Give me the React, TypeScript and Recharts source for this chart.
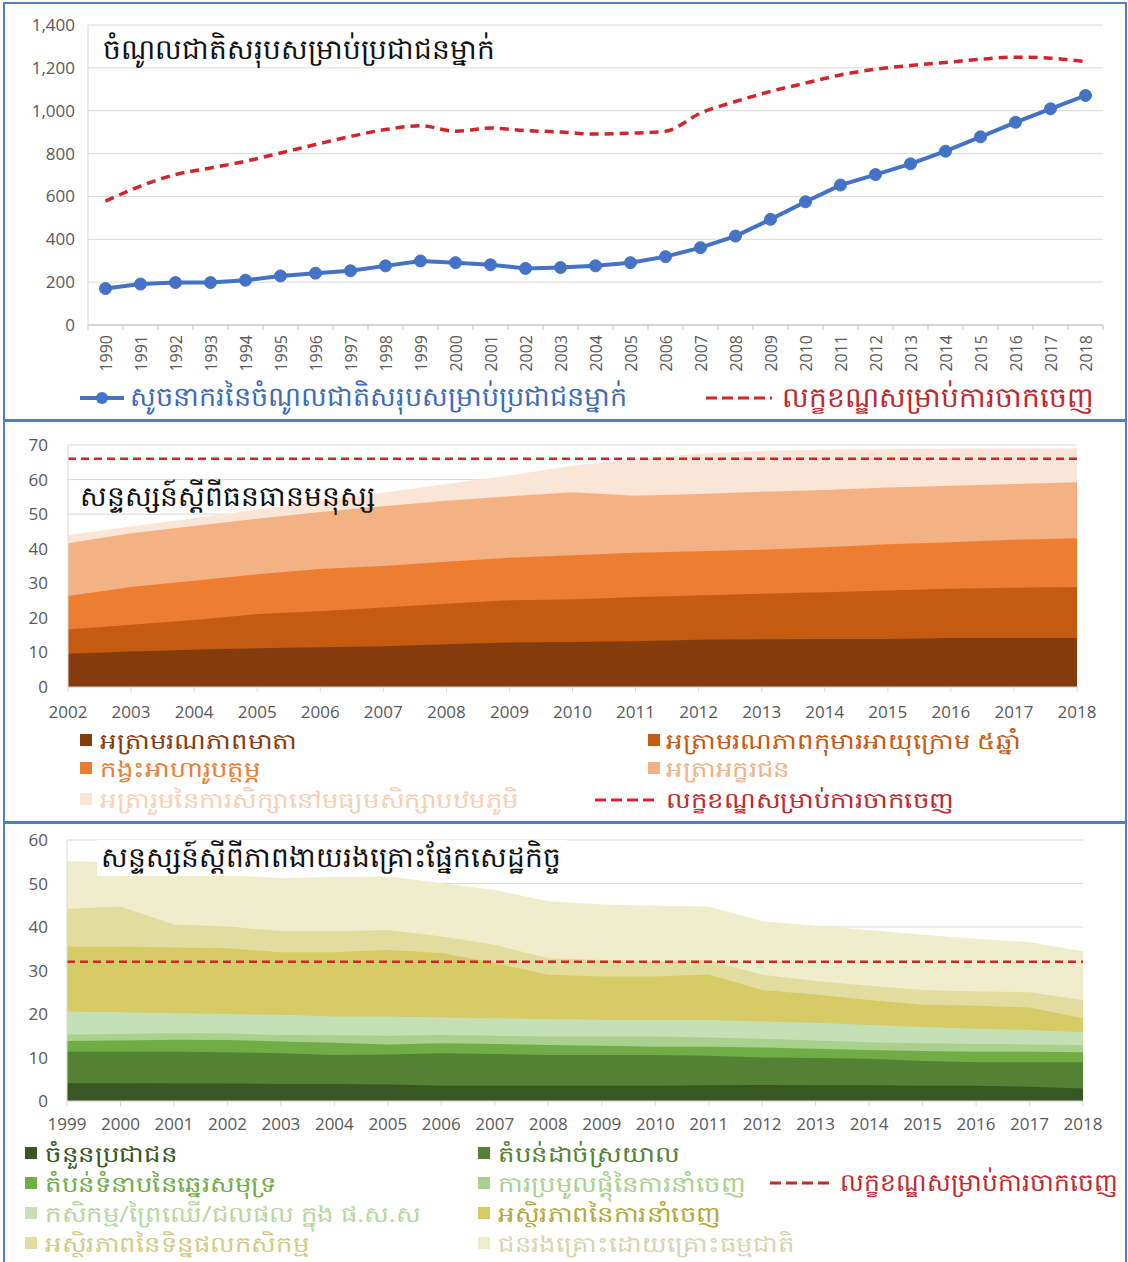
import React from 'react';
import { LineChart, Line, AreaChart, Area, XAxis, YAxis, CartesianGrid, ReferenceLine } from 'recharts';

// ---- panel 1: GNI per capita ----
const gniYears = ['1990', '1991', '1992', '1993', '1994', '1995', '1996', '1997', '1998', '1999', '2000', '2001', '2002', '2003', '2004', '2005', '2006', '2007', '2008', '2009', '2010', '2011', '2012', '2013', '2014', '2015', '2016', '2017', '2018'];
const gniPerCapita = [170, 191, 198, 198, 209, 229, 242, 253, 276, 299, 291, 281, 264, 268, 276, 291, 319, 361, 415, 493, 575, 653, 702, 752, 811, 878, 946, 1009, 1071];
const gniThreshold = [578, 648, 702, 733, 764, 803, 842, 880, 912, 930, 904, 919, 907, 901, 891, 895, 904, 989, 1043, 1090, 1129, 1167, 1194, 1211, 1225, 1240, 1250, 1245, 1229];
const gniTicks = [0, 200, 400, 600, 800, 1000, 1200, 1400];

// ---- panel 2: human assets index (top edge of each stacked band) ----
const haiYears = ['2002', '2003', '2004', '2005', '2006', '2007', '2008', '2009', '2010', '2011', '2012', '2013', '2014', '2015', '2016', '2017', '2018'];
const haiMaternal = [9.6, 10.3, 10.8, 11.2, 11.5, 11.8, 12.4, 12.9, 13.0, 13.2, 13.7, 13.8, 13.9, 13.9, 14.2, 14.2, 14.2];
const haiUnder5 = [16.6, 18.0, 19.4, 21.1, 21.9, 23.0, 24.1, 25.1, 25.3, 26.0, 26.5, 27.0, 27.4, 27.9, 28.4, 28.7, 28.9];
const haiNutrition = [26.3, 28.9, 30.7, 32.6, 34.1, 35.0, 36.2, 37.4, 38.1, 38.8, 39.3, 39.7, 40.4, 41.3, 41.9, 42.6, 43.0];
const haiLiteracy = [41.6, 44.5, 46.6, 48.7, 50.6, 52.3, 53.9, 55.2, 56.3, 55.3, 55.8, 56.5, 57.0, 57.7, 58.2, 58.7, 59.2];
const haiEnrolment = [43.9, 46.4, 48.8, 51.3, 53.8, 56.2, 58.7, 61.2, 64.0, 66.0, 67.5, 68.3, 68.6, 68.8, 69.0, 69.0, 69.0];
const haiThreshold = 66;
const haiTicks = [0, 10, 20, 30, 40, 50, 60, 70];

// ---- panel 3: economic vulnerability index (top edge of each stacked band) ----
const eviYears = ['1999', '2000', '2001', '2002', '2003', '2004', '2005', '2006', '2007', '2008', '2009', '2010', '2011', '2012', '2013', '2014', '2015', '2016', '2017', '2018'];
const eviPopulation = [4.1, 4.1, 4.0, 4.0, 3.9, 3.9, 3.8, 3.5, 3.5, 3.5, 3.5, 3.5, 3.6, 3.7, 3.6, 3.6, 3.5, 3.5, 3.3, 2.9];
const eviRemoteness = [11.3, 11.3, 11.3, 11.2, 11.0, 10.6, 10.7, 11.0, 10.8, 10.6, 10.6, 10.6, 10.4, 10.0, 9.9, 9.7, 9.2, 8.9, 8.9, 8.9];
const eviCoastal = [13.8, 13.9, 14.1, 14.0, 13.7, 13.4, 13.0, 13.3, 13.1, 12.9, 12.7, 12.5, 12.5, 12.3, 12.0, 11.7, 11.5, 11.3, 11.3, 11.2];
const eviExportConc = [15.3, 15.4, 15.6, 15.5, 15.2, 15.1, 15.0, 15.2, 15.0, 14.8, 14.8, 14.8, 14.6, 14.3, 13.9, 13.5, 13.3, 13.1, 13.0, 12.9];
const eviAgriShare = [20.6, 20.4, 20.2, 20.0, 19.8, 19.4, 19.4, 19.2, 19.0, 18.8, 18.7, 18.6, 18.6, 18.3, 18.0, 17.5, 17.0, 16.6, 16.3, 15.8];
const eviExportInstab = [35.5, 35.5, 35.3, 35.1, 34.2, 34.2, 34.7, 34.0, 31.7, 29.0, 28.6, 28.6, 29.1, 25.5, 24.5, 23.2, 22.1, 21.9, 21.5, 19.0];
const eviAgriInstab = [44.2, 44.7, 40.6, 40.1, 39.1, 39.0, 39.3, 37.8, 35.9, 32.8, 32.4, 32.1, 32.4, 29.0, 27.6, 26.5, 25.5, 25.2, 25.0, 23.2];
const eviDisaster = [55.1, 54.9, 52.3, 52.0, 51.2, 51.5, 51.6, 50.1, 48.5, 45.9, 45.2, 44.9, 44.7, 41.3, 40.3, 39.3, 38.2, 37.3, 36.5, 34.4];
const eviThreshold = 32;
const eviTicks = [0, 10, 20, 30, 40, 50, 60];

// ---- texts ----
const gniTitle = 'ចំណូលជាតិសរុបសម្រាប់ប្រជាជនម្នាក់';
const gniLegend = 'សូចនាករនៃចំណូលជាតិសរុបសម្រាប់ប្រជាជនម្នាក់';
const thresholdLabel = 'លក្ខខណ្ឌសម្រាប់ការចាកចេញ';
const haiTitle = 'សន្ទស្សន៍ស្តីពីធនធានមនុស្ស';
const haiLabels = ['អត្រាមរណភាពមាតា', 'អត្រាមរណភាពកុមារអាយុក្រោម ៥ឆ្នាំ', 'កង្វះអាហារូបត្ថម្ភ', 'អត្រាអក្ខរជន', 'អត្រារួមនៃការសិក្សានៅមធ្យមសិក្សាបឋមភូមិ'];
const eviTitle = 'សន្ទស្សន៍ស្តីពីភាពងាយរងគ្រោះផ្នែកសេដ្ឋកិច្ច';
const eviLabels = ['ចំនួនប្រជាជន', 'តំបន់ដាច់ស្រយាល', 'តំបន់ទំនាបនៃឆ្នេរសមុទ្រ', 'ការប្រមូលផ្តុំនៃការនាំចេញ', 'កសិកម្ម/ព្រៃឈើ/ជលផល ក្នុង ផ.ស.ស', 'អស្ថិរភាពនៃការនាំចេញ', 'អស្ថិរភាពនៃទិន្នផលកសិកម្ម', 'ជនរងគ្រោះដោយគ្រោះធម្មជាតិ'];

const haiColors = ['#843c0c', '#c55a11', '#ed7d31', '#f4b183', '#fbe5d6'];
const haiText = ['#843c0c', '#c55a11', '#ed7d31', '#f4b183', '#f6cfb4'];
const eviColors = ['#385723', '#548235', '#70ad47', '#a9d18e', '#c5e0b4', '#d6cb66', '#e3dc9f', '#efedcb'];
const eviText = ['#385723', '#548235', '#70ad47', '#a9d18e', '#b5d7a0', '#b2a83a', '#d2ca86', '#d7d4b2'];

const RED = '#d0252b';
const FONT = '"Open Sans", "Noto Sans", "DejaVu Sans", sans-serif';

const gniData = gniYears.map((year, i) => ({ year, gni: gniPerCapita[i], threshold: gniThreshold[i] }));
const haiData = haiYears.map((year, i) => ({
  year,
  maternal: haiMaternal[i],
  under5: haiUnder5[i],
  nutrition: haiNutrition[i],
  literacy: haiLiteracy[i],
  enrolment: haiEnrolment[i],
}));
const eviData = eviYears.map((year, i) => ({
  year,
  population: eviPopulation[i],
  remoteness: eviRemoteness[i],
  coastal: eviCoastal[i],
  exportConc: eviExportConc[i],
  agriShare: eviAgriShare[i],
  exportInstab: eviExportInstab[i],
  agriInstab: eviAgriInstab[i],
  disaster: eviDisaster[i],
}));

// rotated year labels for the GNI chart, with Excel-like tick marks between categories
const RotatedTick = (props: any) => {
  const { x, y, payload, index } = props;
  const half = 17.5;
  const axisY = y - 10;
  return (
    <g>
      <line x1={x - half} y1={axisY} x2={x - half} y2={axisY + 5} stroke="#bfbfbf" />
      {index === gniYears.length - 1 && <line x1={x + half} y1={axisY} x2={x + half} y2={axisY + 5} stroke="#bfbfbf" />}
      <text x={x} y={y} transform={`rotate(-90 ${x} ${y})`} textAnchor="end" dominantBaseline="central" fontSize={16} fill="#595959">
        {payload.value}
      </text>
    </g>
  );
};

const Box = ({ top, height }: { top: number; height: number }) => (
  <div style={{ position: 'absolute', left: 3, top, width: 1120, height, border: '2px solid #4f7fc0' }} />
);

const Text = ({ left, top, size, color, children, bg }: any) => (
  <div style={{ position: 'absolute', left, top, fontSize: size, color, lineHeight: 1, whiteSpace: 'nowrap', background: bg }}>{children}</div>
);

// legend label: a smaller font stretched sideways, like the wide Khmer face of the original
const Label = ({ left, center, color, children }: any) => (
  <div style={{ position: 'absolute', left, top: center - 11, fontSize: 22, lineHeight: 1, color, whiteSpace: 'nowrap', transform: 'scaleX(1.18)', transformOrigin: 'left center' }}>{children}</div>
);

const Swatch = ({ left, top, color }: { left: number; top: number; color: string }) => (
  <div style={{ position: 'absolute', left, top, width: 12, height: 12, background: color }} />
);

const Dashes = ({ left, top, width }: { left: number; top: number; width: number }) => (
  <svg style={{ position: 'absolute', left, top: top - 3 }} width={width} height={6}>
    <line x1={0} y1={3} x2={width} y2={3} stroke={RED} strokeWidth={3} strokeDasharray="11 5" />
  </svg>
);

export default function App() {
  return (
    <div style={{ position: 'absolute', left: 0, top: 0, width: 1128, height: 1262, background: '#fff', fontFamily: FONT, overflow: 'hidden' }}>
      <Box top={2} height={415} />
      <Box top={420} height={399} />
      <Box top={822} height={445} />

      {/* panel 1 */}
      <div style={{ position: 'absolute', left: 0, top: 0 }}>
        <LineChart width={1128} height={380} data={gniData} margin={{ top: 25, right: 25, bottom: 0, left: 0 }}>
          <CartesianGrid vertical={false} stroke="#d9d9d9" />
          <XAxis dataKey="year" padding={{ left: 17.5, right: 17.5 }} interval={0} tickSize={0} tickMargin={10} height={55} axisLine={{ stroke: '#bfbfbf' }} tick={<RotatedTick />} />
          <YAxis domain={[0, 1400]} ticks={gniTicks} width={88} tickSize={0} tickMargin={13} axisLine={{ stroke: '#d9d9d9' }} tick={{ fontSize: 17, fill: '#595959' }} tickFormatter={(v: number) => v.toLocaleString('en-US')} />
          <Line dataKey="threshold" type="monotone" stroke={RED} strokeWidth={3.5} strokeDasharray="9 6" dot={false} isAnimationActive={false} />
          <Line dataKey="gni" type="linear" stroke="#4472c4" strokeWidth={4} dot={{ r: 6, fill: '#4472c4', stroke: '#4472c4', strokeWidth: 1 }} isAnimationActive={false} />
        </LineChart>
      </div>
      <Text left={103} top={34} size={28} color="#111">{gniTitle}</Text>
      <svg style={{ position: 'absolute', left: 80, top: 390 }} width={44} height={16}>
        <line x1={0} y1={8} x2={44} y2={8} stroke="#4472c4" strokeWidth={4} />
        <circle cx={22} cy={8} r={6} fill="#4472c4" />
      </svg>
      <Text left={130} top={382} size={27} color="#3e6cb8">{gniLegend}</Text>
      <Dashes left={706} top={398} width={66} />
      <Text left={782} top={382} size={28} color="#c0282d">{thresholdLabel}</Text>

      {/* panel 2 */}
      <div style={{ position: 'absolute', left: 0, top: 422 }}>
        <AreaChart width={1128} height={305} data={haiData} margin={{ top: 23, right: 51, bottom: 0, left: 0 }}>
          <CartesianGrid vertical={false} stroke="#d9d9d9" />
          <XAxis dataKey="year" interval={0} tickSize={5} tickMargin={14} height={40} axisLine={{ stroke: '#d9d9d9' }} tickLine={{ stroke: '#d9d9d9' }} tick={{ fontSize: 17, fill: '#595959' }} />
          <YAxis domain={[0, 70]} ticks={haiTicks} width={68} tickSize={0} tickMargin={20} axisLine={{ stroke: '#d9d9d9' }} tick={{ fontSize: 17, fill: '#595959' }} />
          <Area dataKey="enrolment" type="linear" fill={haiColors[4]} fillOpacity={1} stroke="none" isAnimationActive={false} />
          <Area dataKey="literacy" type="linear" fill={haiColors[3]} fillOpacity={1} stroke="none" isAnimationActive={false} />
          <Area dataKey="nutrition" type="linear" fill={haiColors[2]} fillOpacity={1} stroke="none" isAnimationActive={false} />
          <Area dataKey="under5" type="linear" fill={haiColors[1]} fillOpacity={1} stroke="none" isAnimationActive={false} />
          <Area dataKey="maternal" type="linear" fill={haiColors[0]} fillOpacity={1} stroke="none" isAnimationActive={false} />
          <ReferenceLine y={haiThreshold} stroke={RED} strokeWidth={2.5} strokeDasharray="8 5" />
        </AreaChart>
      </div>
      <Text left={80} top={481} size={28} color="#111">{haiTitle}</Text>
      <Swatch left={80} top={734} color={haiColors[0]} />
      <Label left={100} center={740} color={haiText[0]}>{haiLabels[0]}</Label>
      <Swatch left={648} top={734} color={haiColors[1]} />
      <Label left={666} center={740} color={haiText[1]}>{haiLabels[1]}</Label>
      <Swatch left={80} top={762} color={haiColors[2]} />
      <Label left={100} center={768} color={haiText[2]}>{haiLabels[2]}</Label>
      <Swatch left={648} top={762} color={haiColors[3]} />
      <Label left={666} center={768} color={haiText[3]}>{haiLabels[3]}</Label>
      <Swatch left={80} top={793} color={haiColors[4]} />
      <Label left={100} center={799} color={haiText[4]}>{haiLabels[4]}</Label>
      <Dashes left={595} top={800} width={62} />
      <Label left={666} center={799} color="#c0282d">{thresholdLabel}</Label>

      {/* panel 3 */}
      <div style={{ position: 'absolute', left: 0, top: 824 }}>
        <AreaChart width={1128} height={312} data={eviData} margin={{ top: 16, right: 45, bottom: 0, left: 0 }}>
          <CartesianGrid vertical={false} stroke="#d9d9d9" />
          <XAxis dataKey="year" interval={0} tickSize={5} tickMargin={12} height={35} axisLine={{ stroke: '#d9d9d9' }} tickLine={{ stroke: '#d9d9d9' }} tick={{ fontSize: 17, fill: '#595959' }} />
          <YAxis domain={[0, 60]} ticks={eviTicks} width={67} tickSize={0} tickMargin={19} axisLine={{ stroke: '#d9d9d9' }} tick={{ fontSize: 17, fill: '#595959' }} />
          <Area dataKey="disaster" type="linear" fill={eviColors[7]} fillOpacity={1} stroke="none" isAnimationActive={false} />
          <Area dataKey="agriInstab" type="linear" fill={eviColors[6]} fillOpacity={1} stroke="none" isAnimationActive={false} />
          <Area dataKey="exportInstab" type="linear" fill={eviColors[5]} fillOpacity={1} stroke="none" isAnimationActive={false} />
          <Area dataKey="agriShare" type="linear" fill={eviColors[4]} fillOpacity={1} stroke="none" isAnimationActive={false} />
          <Area dataKey="exportConc" type="linear" fill={eviColors[3]} fillOpacity={1} stroke="none" isAnimationActive={false} />
          <Area dataKey="coastal" type="linear" fill={eviColors[2]} fillOpacity={1} stroke="none" isAnimationActive={false} />
          <Area dataKey="remoteness" type="linear" fill={eviColors[1]} fillOpacity={1} stroke="none" isAnimationActive={false} />
          <Area dataKey="population" type="linear" fill={eviColors[0]} fillOpacity={1} stroke="none" isAnimationActive={false} />
          <ReferenceLine y={eviThreshold} stroke={RED} strokeWidth={2.5} strokeDasharray="8 5" />
        </AreaChart>
      </div>
      <Text left={97} top={840} size={28} color="#111" bg="#fff">
        <span style={{ display: 'inline-block', padding: '2px 6px 6px 4px' }}>{eviTitle}</span>
      </Text>
      {eviLabels.map((label, i) => {
        const col = i % 2;
        const row = Math.floor(i / 2);
        const left = col === 0 ? 25 : 478;
        const top = 1147 + row * 30;
        return (
          <React.Fragment key={label}>
            <Swatch left={left} top={top} color={eviColors[i]} />
            <Label left={left + 20} center={top + 6} color={eviText[i]}>{label}</Label>
          </React.Fragment>
        );
      })}
      <Dashes left={770} top={1183} width={64} />
      <Text left={840} top={1169} size={25} color="#c0282d">{thresholdLabel}</Text>
    </div>
  );
}
